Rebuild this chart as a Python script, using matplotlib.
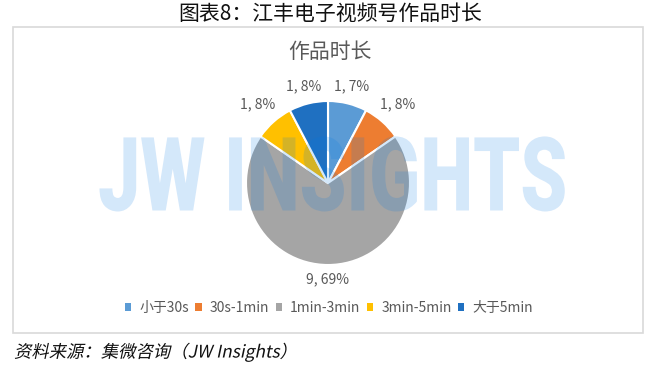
import matplotlib
matplotlib.use('Agg')
import matplotlib.pyplot as plt
from matplotlib.patches import Rectangle
from matplotlib.patheffects import AbstractPathEffect
from matplotlib.transforms import Affine2D
import numpy as np

# ---- data ----
categories = ['小于30s', '30s-1min', '1min-3min', '3min-5min', '大于5min']
counts = [1, 1, 9, 1, 1]
pct_labels = ['7%', '8%', '69%', '8%', '8%']
colors = ['#5B9BD5', '#ED7D31', '#A5A5A5', '#FFC000', '#1F70C1']

title = '图表8：江丰电子视频号作品时长'
chart_title = '作品时长'
source = '资料来源：集微咨询（JW Insights）'
watermark = 'JW INSIGHTS'

plt.rcParams['font.family'] = ['Noto Sans CJK SC', 'DejaVu Sans']


class PreTransform(AbstractPathEffect):
    """Apply an affine transform to the text path in font units (e.g. synthetic italic)."""
    def __init__(self, tr):
        super().__init__()
        self._tr = tr

    def draw_path(self, renderer, gc, tpath, affine, rgbFace=None):
        renderer.draw_path(gc, tpath, self._tr + affine, rgbFace)


class CondenseCentered(AbstractPathEffect):
    """Condense text horizontally about the middle of its own outline."""
    def __init__(self, sx):
        super().__init__()
        self._sx = sx

    def draw_path(self, renderer, gc, tpath, affine, rgbFace=None):
        ext = tpath.get_extents()
        mid = (ext.x0 + ext.x1) / 2
        tr = Affine2D().translate(-mid, 0).scale(self._sx, 1).translate(mid, 0)
        renderer.draw_path(gc, tpath, tr + affine, rgbFace)


W, H = 660, 365
fig = plt.figure(figsize=(W / 100, H / 100), dpi=100)
ax = fig.add_axes([0, 0, 1, 1])

cx, cy, r = 328, H - 183, 82
wedges, _ = ax.pie(counts, colors=colors, startangle=90, counterclock=False,
                   center=(cx, cy), radius=r,
                   wedgeprops=dict(edgecolor='white', linewidth=1.5))
ax.set_xlim(0, W)
ax.set_ylim(0, H)
ax.set_aspect('equal')
ax.axis('off')

# chart frame
ax.add_patch(Rectangle((13, H - 333), 630, 306, fill=False,
                       edgecolor='#D9D9D9', linewidth=1.2, zorder=0))

# data labels outside end
hw, hh, gap = 17, 7, 7
for w, n, p in zip(wedges, counts, pct_labels):
    ang = np.deg2rad((w.theta1 + w.theta2) / 2)
    ux, uy = np.cos(ang), np.sin(ang)
    d = r + gap + hw * abs(ux) + hh * abs(uy)
    ax.text(cx + d * ux, cy + d * uy, f'{n}, {p}', ha='center', va='center',
            fontsize=10, color='#595959')

# watermark
ax.text(333, H - 182, watermark, ha='center', va='center', fontsize=74,
        fontweight='heavy', family='Roboto', color=(0.0, 0.47, 0.9), alpha=0.17,
        zorder=5, path_effects=[CondenseCentered(0.73)])

# legend
handles = [Rectangle((0, 0), 1, 1, facecolor=c, edgecolor='none') for c in colors]
ax.legend(handles, categories, loc='center', bbox_to_anchor=(329 / W, 1 - 308 / H),
          ncol=5, frameon=False, fontsize=10, handlelength=0.45, handleheight=0.45,
          handletextpad=0.6, columnspacing=0.45, labelcolor='#595959',
          borderaxespad=0)

# titles
ax.text(330, H - 14, title, ha='center', va='center', fontsize=15, color='#111111')
ax.text(330, H - 52, chart_title, ha='center', va='center', fontsize=15, color='#595959')

# source
ax.text(14, H - 352, source, ha='left', va='center', fontsize=12.5, color='#111111',
        path_effects=[PreTransform(Affine2D().skew_deg(12, 0))])

fig.savefig('out.png', dpi=100, facecolor='white')
